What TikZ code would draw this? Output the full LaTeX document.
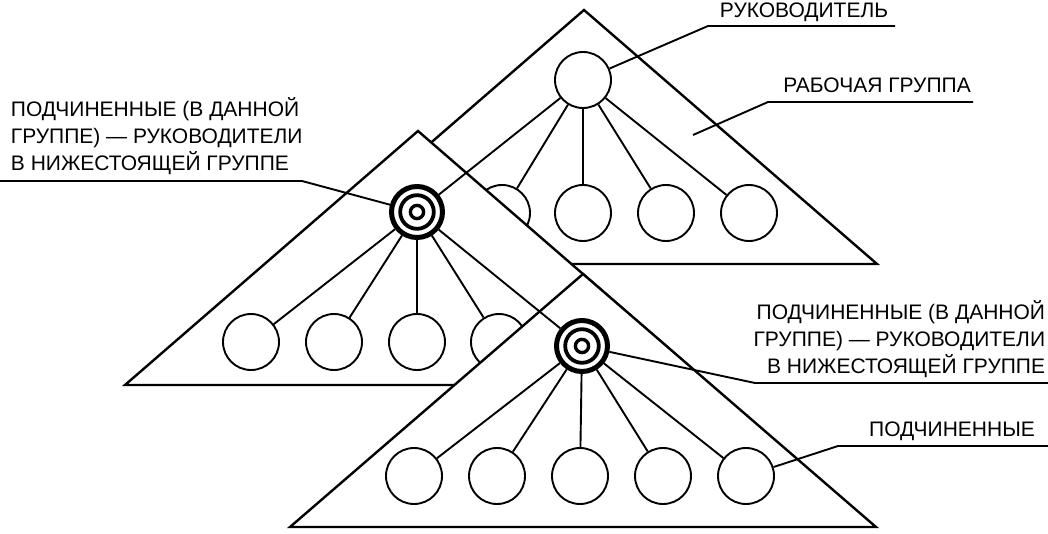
\documentclass[tikz,border=0pt]{standalone}
\usepackage{fontspec}
\setmainfont{Liberation Sans}
\begin{document}
\begin{tikzpicture}[x=1pt, y=-1pt, line width=1.9pt,
        tri/.style={draw, fill=white, line width=2.4pt},
        memb/.style={circle, draw, fill=white, minimum size=56pt, inner sep=0pt},
        head/.style={circle, draw, fill=white, line width=5pt, minimum size=51pt, inner sep=0pt},
        lbl/.style={inner sep=0pt, font=\fontsize{21}{27}\selectfont}]
        \useasboundingbox (0,0) rectangle (1048,534);

        % upper group
        \draw[tri] (584,10) -- (877,264) -- (291,264) -- cycle;
        \node[memb] (T) at (583,80) {};
        \node[memb] (T2) at (502,213) {};
        \node[memb] (T3) at (583,213) {};
        \node[memb] (T4) at (666,213) {};
        \node[memb] (T5) at (749,213) {};

        % middle group
        \draw[tri] (418,131) -- (711,385) -- (125,385) -- cycle;
        \node[head] (M) at (417,212) {};
        \draw[line width=3.8pt] (M) circle (16.8pt);
        \draw[line width=3.4pt] (M) circle (6.6pt);
        \node[memb] (M1) at (251,342) {};
        \node[memb] (M2) at (334,342) {};
        \node[memb] (M3) at (417,342) {};
        \node[memb] (M4) at (499,342) {};

        % lower group
        \draw[tri] (583,274) -- (876,527) -- (290,527) -- cycle;
        \node[head] (F) at (582,346) {};
        \draw[line width=3.8pt] (F) circle (16.8pt);
        \draw[line width=3.4pt] (F) circle (6.6pt);
        \node[memb] (F1) at (414,476) {};
        \node[memb] (F2) at (497,476) {};
        \node[memb] (F3) at (580,476) {};
        \node[memb] (F4) at (663,476) {};
        \node[memb] (F5) at (746,476) {};

        \draw (T) -- (M);
        \draw (T) -- (T2);
        \draw (T) -- (T3);
        \draw (T) -- (T4);
        \draw (T) -- (T5);
        \draw (M) -- (M1);
        \draw (M) -- (M2);
        \draw (M) -- (M3);
        \draw (M) -- (M4);
        \draw (M) -- (F);
        \draw (F) -- (F1);
        \draw (F) -- (F2);
        \draw (F) -- (F3);
        \draw (F) -- (F4);
        \draw (F) -- (F5);

        % labels
        \node[lbl, anchor=base] (kR) at (804,18) {РУКОВОДИТЕЛЬ};
        \node[lbl, anchor=base] (kG) at (877,93) {РАБОЧАЯ ГРУППА};
        \node[lbl, align=left, anchor=south west] (kL) at (10,176) {ПОДЧИНЕННЫЕ (В ДАННОЙ\\ГРУППЕ) — РУКОВОДИТЕЛИ\\В НИЖЕСТОЯЩЕЙ ГРУППЕ};
        \node[lbl, align=right, anchor=south east] (kP) at (1046,379) {ПОДЧИНЕННЫЕ (В ДАННОЙ\\ГРУППЕ) — РУКОВОДИТЕЛИ\\В НИЖЕСТОЯЩЕЙ ГРУППЕ};
        \node[lbl, anchor=base] (kS) at (952,436) {ПОДЧИНЕННЫЕ};

        \coordinate (r1) at (708,26);
        \coordinate (r2) at (895,26);
        \draw (T) -- (r1) -- (r2);
        \coordinate (g0) at (693,135);
        \coordinate (g1) at (768,102);
        \coordinate (g2) at (973,102);
        \draw (g0) -- (g1) -- (g2);
        \coordinate (l1) at (0,181);
        \coordinate (l2) at (302,181);
        \draw (l1) -- (l2) -- (M);
        \coordinate (p1) at (755,383);
        \coordinate (p2) at (1048,383);
        \draw (F) -- (p1) -- (p2);
        \coordinate (s1) at (838,446);
        \coordinate (s2) at (1048,446);
        \draw (F5) -- (s1) -- (s2);

        \end{tikzpicture}
\end{document}
